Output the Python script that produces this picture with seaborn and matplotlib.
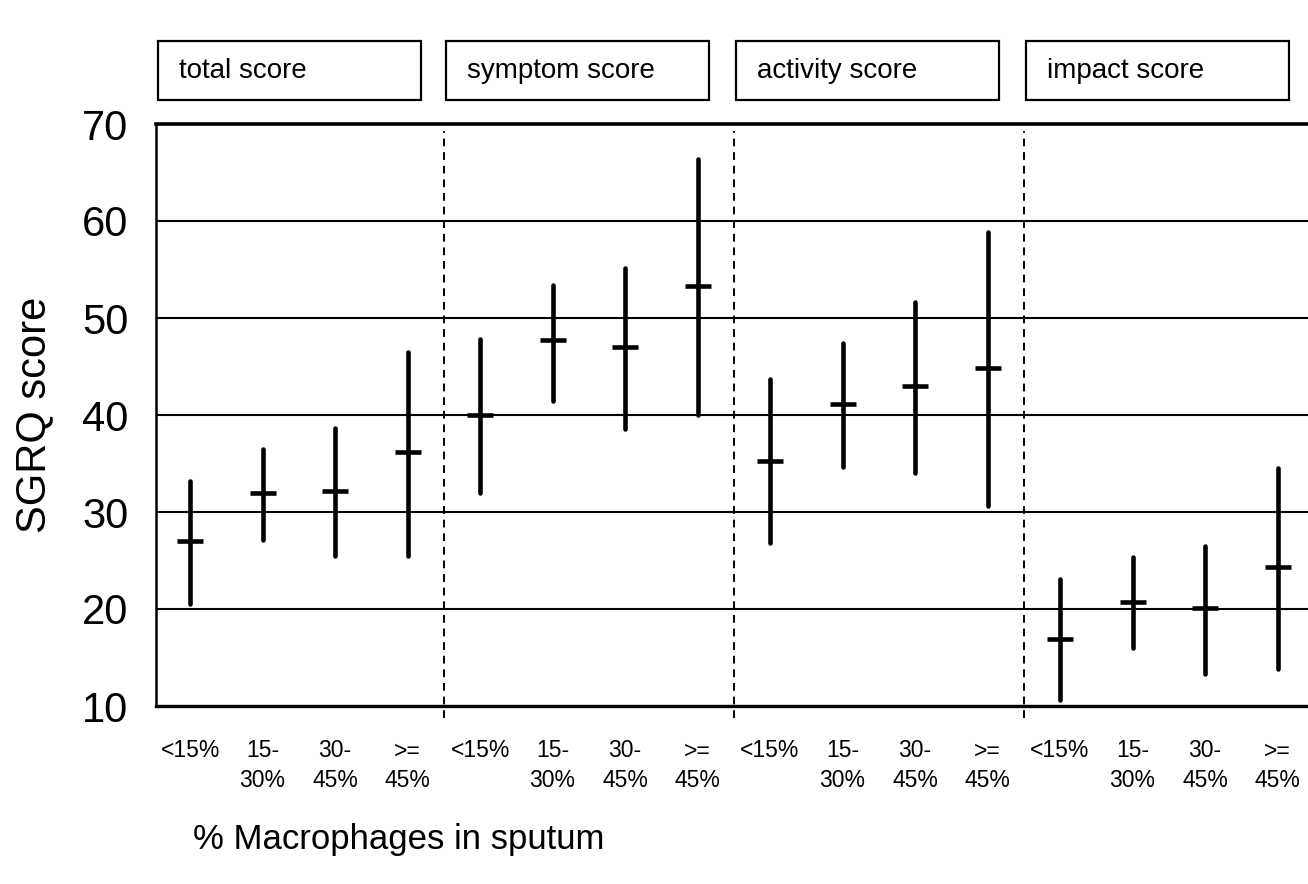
import pandas as pd
import numpy as np
import matplotlib
matplotlib.use("Agg")
import matplotlib.pyplot as plt
import matplotlib.transforms as mtransforms
from matplotlib.patches import Rectangle
import seaborn as sns

sns.set_theme(style="white")
plt.rcParams['font.family'] = ['Liberation Sans', 'DejaVu Sans']

# categories on the x axis (per score block)
categories = ["<15%", "15-\n30%", "30-\n45%", ">=\n45%"]
scores = ["total score", "symptom score", "activity score", "impact score"]

# mean values
mean_total = [27.0, 31.95, 32.15, 36.2]
mean_symptom = [40.0, 47.7, 47.0, 53.3]
mean_activity = [35.3, 41.1, 43.0, 44.8]
mean_impact = [16.9, 20.7, 20.1, 24.3]

# lower ends of the ranges
low_total = [20.5, 27.1, 25.5, 25.5]
low_symptom = [31.95, 41.4, 38.6, 40.0]
low_activity = [26.8, 34.6, 34.0, 30.6]
low_impact = [10.6, 16.0, 13.3, 13.8]

# upper ends of the ranges
high_total = [33.2, 36.5, 38.7, 46.5]
high_symptom = [47.8, 53.4, 55.2, 66.4]
high_activity = [43.75, 47.4, 51.7, 58.9]
high_impact = [23.1, 25.4, 26.5, 34.5]

means = [mean_total, mean_symptom, mean_activity, mean_impact]
lows = [low_total, low_symptom, low_activity, low_impact]
highs = [high_total, high_symptom, high_activity, high_impact]

# long table: median of (low, mean, high) is the mean, min/max is the range
rows = []
for s, score in enumerate(scores):
    for c, cat in enumerate(categories):
        key = f"{score}|{cat}"
        for v in (lows[s][c], means[s][c], highs[s][c]):
            rows.append({"group": key, "value": v})
df = pd.DataFrame(rows)
order = [f"{s}|{c}" for s in scores for c in categories]

fig = plt.figure(figsize=(13.08, 8.84), dpi=100)
ax = fig.add_axes([156 / 1308, 1 - 706 / 884, 1 - 156 / 1308, (706 - 124) / 884])

sns.pointplot(data=df, x="group", y="value", order=order,
              estimator="median", errorbar=("pi", 100),
              color="black", linestyle="none", marker="_",
              markersize=19, markeredgewidth=3.3,
              err_kws={"linewidth": 3.3, "solid_capstyle": "round"},
              ax=ax)

ax.set_ylim(10, 70)
ax.set_xlim(-0.47, 15.42)
ax.set_yticks(range(10, 71, 10))
ax.yaxis.grid(True, color="black", linewidth=1.5)
ax.set_axisbelow(True)

ax.set_xticks(range(len(order)))
ax.set_xticklabels(categories * len(scores), fontsize=16.5, linespacing=1.35)
ax.set_xticks([3.5, 7.5, 11.5], minor=True)
ax.tick_params(axis="x", which="major", length=0, pad=24, colors="black")
ax.tick_params(axis="x", which="minor", length=7, width=1.2, direction="out", color="black")
ax.tick_params(axis="y", length=14, width=1.5, direction="out", labelsize=30, pad=6, colors="black")

for side in ["left", "bottom", "top"]:
    ax.spines[side].set_color("black")
ax.spines["left"].set_linewidth(1.8)
ax.spines["bottom"].set_linewidth(2.4)
ax.spines["top"].set_linewidth(2.6)
ax.spines["right"].set_visible(False)

# dashed separators between score blocks
for xs in [3.5, 7.5, 11.5]:
    ax.vlines(xs, 8.8, 69.3, colors="black", linestyles=(0, (4, 3)),
              linewidth=1.4, clip_on=False)

ax.set_xlabel("")
ax.set_ylabel("SGRQ score", fontsize=30, color="black")
ax.yaxis.set_label_coords(-0.088, 0.5)

fig.text(193 / 1308, 1 - 840 / 884, "% Macrophages in sputum", fontsize=25,
         ha="left", va="center", color="black")

# score boxes above the plot
trans = mtransforms.blended_transform_factory(ax.transData, fig.transFigure)
box_bottom = 1 - 100 / 884
box_height = 59 / 884
for i, score in enumerate(scores):
    x0 = -0.47 + 4 * i + 0.03 if i == 0 else 4 * i - 0.5 + 0.03
    rect = Rectangle((x0, box_bottom), 3.63, box_height, transform=trans,
                     facecolor="white", edgecolor="black", linewidth=1.6,
                     clip_on=False)
    fig.add_artist(rect)
    fig.text(x0 + 0.29, box_bottom + box_height / 2, score, transform=trans,
             fontsize=20, ha="left", va="center", color="black")

plt.savefig("out.png", dpi=100)
plt.close()
